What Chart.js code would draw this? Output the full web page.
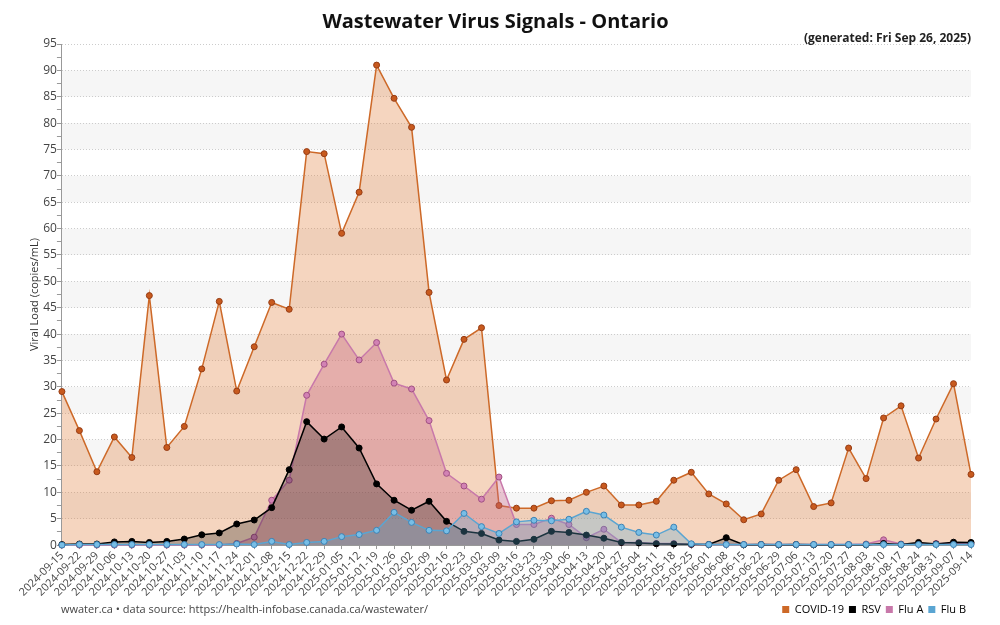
<!DOCTYPE html>
<html><head><meta charset="utf-8">
<script src="https://cdn.jsdelivr.net/npm/chart.js@4.4.1/dist/chart.umd.min.js"></script>
<style>html,body{margin:0;padding:0;background:#fff;}#wrap{width:1000px;height:625px;}</style>
</head><body><div id="wrap"><canvas id="c" width="1000" height="625"></canvas></div>
<script>
const weeks = ['2024-09-15','2024-09-22','2024-09-29','2024-10-06','2024-10-13','2024-10-20','2024-10-27','2024-11-03','2024-11-10','2024-11-17','2024-11-24','2024-12-01','2024-12-08','2024-12-15','2024-12-22','2024-12-29','2025-01-05','2025-01-12','2025-01-19','2025-01-26','2025-02-02','2025-02-09','2025-02-16','2025-02-23','2025-03-02','2025-03-09','2025-03-16','2025-03-23','2025-03-30','2025-04-06','2025-04-13','2025-04-20','2025-04-27','2025-05-04','2025-05-11','2025-05-18','2025-05-25','2025-06-01','2025-06-08','2025-06-15','2025-06-22','2025-06-29','2025-07-06','2025-07-13','2025-07-20','2025-07-27','2025-08-03','2025-08-10','2025-08-17','2025-08-24','2025-08-31','2025-09-07','2025-09-14'];
const covid = [29.1,21.7,13.9,20.5,16.6,47.3,18.5,22.5,33.4,46.2,29.2,37.6,46.0,44.7,74.6,74.2,59.1,66.9,91.0,84.7,79.2,47.9,31.3,39.0,41.2,7.5,7.0,7.0,8.4,8.5,10.0,11.2,7.6,7.6,8.3,12.3,13.8,9.7,7.8,4.8,5.9,12.3,14.3,7.3,8.0,18.4,12.6,24.1,26.4,16.5,23.9,30.6,13.4];
const rsv = [0.1,0.2,0.2,0.6,0.7,0.5,0.7,1.15,1.95,2.3,4.0,4.75,7.1,14.3,23.4,20.1,22.4,18.4,11.6,8.5,6.6,8.3,4.5,2.6,2.2,0.95,0.7,1.1,2.6,2.4,1.9,1.3,0.5,0.4,0.25,0.2,0.15,0.1,1.4,0.05,0.1,0.05,0.1,0.05,0.05,0.05,0.05,0.3,0.1,0.5,0.2,0.55,0.5];
const fluA = [0,0,0,0,0,0,0,0,0,0,0.3,1.5,8.5,12.3,28.4,34.3,40.0,35.1,38.4,30.7,29.6,23.6,13.6,11.2,8.7,12.9,3.9,3.9,5.1,3.9,1.4,3.0,0.5,0.5,0.3,0.3,0.1,0.1,0.1,0.1,0.1,0.1,0.1,0.1,0.1,0.1,0.2,1.0,0.2,0.2,0.3,0.3,0.3];
const fluB = [0,0.1,0.1,0.1,0.1,0.1,0.1,0.1,0.1,0.1,0.2,0.1,0.7,0.1,0.5,0.7,1.6,2.0,2.8,6.2,4.3,2.8,2.7,6.0,3.5,2.2,4.4,4.7,4.6,4.9,6.4,5.7,3.4,2.4,1.9,3.4,0.25,0.1,0.1,0.1,0.1,0.1,0.1,0.1,0.1,0.1,0.1,0.1,0.1,0.1,0.1,0.1,0.1];
const seriesNames = ['COVID-19','RSV','Flu A','Flu B'];
const yMin = 0, yMax = 95, yMajorStep = 5, yMinorStep = 2.5;
const titleText = 'Wastewater Virus Signals - Ontario';
const subtitleText = '(generated: Fri Sep 26, 2025)';
const yTitle = 'Viral Load (copies/mL)';
const footerText = 'wwater.ca \u2022 data source: https://health-infobase.canada.ca/wastewater/';

Chart.defaults.font.family = "'Open Sans', sans-serif";
Chart.defaults.color = '#444';

const isMajor = v => Math.abs(v / yMajorStep - Math.round(v / yMajorStep)) < 1e-6;

const bandsPlugin = {
  id: 'bands',
  beforeDraw(chart) {
    const {ctx, chartArea: a, scales: {y}} = chart;
    ctx.save();
    ctx.fillStyle = '#f6f6f6';
    for (let v = yMin + yMajorStep; v < yMax; v += 2 * yMajorStep) {
      const t = y.getPixelForValue(v + yMajorStep), b = y.getPixelForValue(v);
      ctx.fillRect(a.left, t, a.right - a.left, b - t);
    }
    ctx.restore();
  }
};
const footerPlugin = {
  id: 'footer',
  afterDraw(chart) {
    const {ctx, chartArea: a, legend} = chart;
    const hb = legend.legendHitBoxes && legend.legendHitBoxes[0];
    const yc = hb ? hb.top + hb.height / 2 : chart.height - 15;
    ctx.save();
    ctx.font = "11px 'Open Sans', sans-serif";
    ctx.fillStyle = '#444';
    ctx.textBaseline = 'middle';
    ctx.textAlign = 'left';
    ctx.fillText(footerText, a.left - 1, yc);
    ctx.restore();
  }
};

function ds(label, data, line, fill, ptFill, ptBorder, order) {
  return {label, data, borderColor: line, backgroundColor: fill, pointBackgroundColor: ptFill,
    pointBorderColor: ptBorder, pointBorderWidth: 1, pointRadius: 3, pointHoverRadius: 3,
    borderWidth: 1.5, fill: 'origin', tension: 0, order, clip: false};
}

new Chart(document.getElementById('c'), {
  type: 'line',
  data: {
    labels: weeks,
    datasets: [
      ds(seriesNames[0], covid, 'rgb(205,105,40)', 'rgba(225,125,55,0.32)', 'rgb(200,90,30)', 'rgb(150,60,20)', 4),
      ds(seriesNames[1], rsv, 'rgb(0,0,0)', 'rgba(0,0,0,0.25)', 'rgb(0,0,0)', 'rgb(0,0,0)', 2),
      ds(seriesNames[2], fluA, 'rgb(200,120,170)', 'rgba(200,100,135,0.35)', 'rgb(210,130,180)', 'rgb(160,80,130)', 3),
      ds(seriesNames[3], fluB, 'rgb(90,165,210)', 'rgba(90,170,210,0.3)', 'rgb(120,190,230)', 'rgb(60,130,180)', 1)
    ]
  },
  options: {
    responsive: false,
    animation: false,
    devicePixelRatio: 1,
    layout: {padding: {left: 20, right: 29, top: 0, bottom: 0}},
    plugins: {
      tooltip: {enabled: false},
      title: {display: true, text: titleText, font: {size: 20, weight: 'bold'}, color: '#111', padding: {top: 10, bottom: 0}},
      subtitle: {display: true, text: subtitleText, align: 'end', font: {size: 12, weight: 'bold', lineHeight: '10px'}, color: '#222', padding: 0},
      legend: {
        position: 'bottom', align: 'end',
        labels: {
          boxWidth: 7, boxHeight: 7, padding: 5, color: '#333', font: {size: 11},
          generateLabels(chart) {
            return chart.data.datasets.map((d, i) => ({text: d.label, fillStyle: d.borderColor, strokeStyle: d.borderColor, lineWidth: 0, datasetIndex: i, hidden: false}));
          }
        }
      }
    },
    scales: {
      x: {
        type: 'category', offset: false,
        grid: {display: true, drawOnChartArea: false, drawTicks: true, tickLength: 4, tickColor: '#999'},
        border: {display: true, color: '#999'},
        ticks: {autoSkip: false, maxRotation: 45, minRotation: 45, padding: 0, color: '#444', font: {size: 11}}
      },
      y: {
        min: yMin, max: yMax,
        grid: {color: c => isMajor(c.tick.value) ? '#cccccc' : 'rgba(0,0,0,0)', lineWidth: 1, tickLength: 5, tickColor: '#999'},
        border: {display: true, color: '#999', dash: [1, 2]},
        ticks: {stepSize: yMinorStep, autoSkip: false, padding: 0, color: '#444', font: {size: 12},
          callback: v => isMajor(v) ? String(Math.round(v)) : ''},
        title: {display: true, text: yTitle, color: '#333', font: {size: 11}, padding: {top: 8, bottom: 2}}
      }
    }
  },
  plugins: [bandsPlugin, footerPlugin]
});
</script></body></html>
